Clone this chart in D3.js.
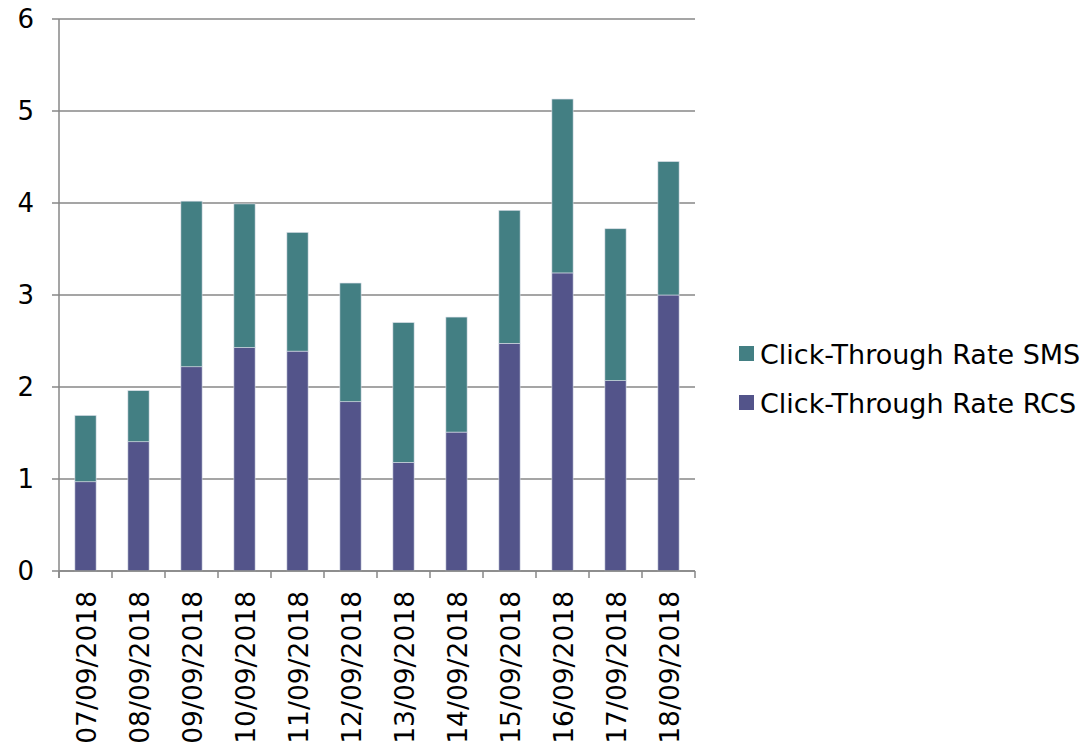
<!DOCTYPE html>
<html><head><meta charset="utf-8">
<script src="https://cdn.jsdelivr.net/npm/d3@7"></script>
<style>body{margin:0;background:#fff;} text{font-family:"DejaVu Sans",Verdana,sans-serif;fill:#000;}</style>
</head><body>
<svg id="c" width="1089" height="752"></svg>
<script>
const categories = ["07/09/2018","08/09/2018","09/09/2018","10/09/2018","11/09/2018","12/09/2018","13/09/2018","14/09/2018","15/09/2018","16/09/2018","17/09/2018","18/09/2018"];
const rcs = [0.97,1.405,2.22,2.43,2.39,1.84,1.18,1.51,2.475,3.24,2.07,3.0];
const sms = [0.72,0.555,1.80,1.56,1.29,1.29,1.52,1.25,1.445,1.89,1.65,1.45];
const yTicks = [0,1,2,3,4,5,6];
const seriesNames = ["Click-Through Rate RCS","Click-Through Rate SMS"];
const colors = {"Click-Through Rate RCS":"#53548a","Click-Through Rate SMS":"#437f83"};

(function(){
const svg = d3.select("#c");
const mL=59, mR=695, mT=19, mB=571;
const x = d3.scaleBand().domain(categories).range([mL,mR]).paddingInner(0.6).paddingOuter(0.3);
const xb = d3.scaleBand().domain(categories).range([mL,mR]);
const y = d3.scaleLinear().domain([0,6]).range([mB,mT]);

svg.append("g").selectAll("line").data(yTicks).join("line")
  .attr("x1",mL-7).attr("x2",mR).attr("y1",d=>y(d)).attr("y2",d=>y(d))
  .attr("stroke","#878787").attr("stroke-width",1.5);
svg.append("line").attr("x1",mL).attr("x2",mL).attr("y1",mT).attr("y2",mB+7)
  .attr("stroke","#878787").attr("stroke-width",1.5);
svg.append("g").selectAll("text").data(yTicks).join("text")
  .attr("x",34).attr("y",d=>y(d)).attr("dy","0.36em").attr("text-anchor","end")
  .style("font-size","26px").text(d=>d);

const rows = categories.map((c,i)=>({cat:c,"Click-Through Rate RCS":rcs[i],"Click-Through Rate SMS":sms[i]}));
const stack = d3.stack().keys(seriesNames)(rows);
svg.append("g").selectAll("g").data(stack).join("g").attr("fill",d=>colors[d.key])
  .selectAll("rect").data(d=>d).join("rect")
  .attr("x",d=>x(d.data.cat)).attr("width",x.bandwidth())
  .attr("y",d=>y(d[1])).attr("height",d=>y(d[0])-y(d[1]))
  .attr("stroke","#d8dde6").attr("stroke-width",0.6);

svg.append("line").attr("x1",mL).attr("x2",mR).attr("y1",mB).attr("y2",mB)
  .attr("stroke","#878787").attr("stroke-width",1.5);
const tickPos = categories.map(c=>xb(c)).concat([mR]);
svg.append("g").selectAll("line").data(tickPos).join("line")
  .attr("x1",d=>d).attr("x2",d=>d).attr("y1",mB).attr("y2",mB+7)
  .attr("stroke","#878787").attr("stroke-width",1.5);
svg.append("g").selectAll("text").data(categories).join("text")
  .attr("transform",d=>`translate(${xb(d)+xb.bandwidth()/2+1},591) rotate(-90)`)
  .attr("text-anchor","end").attr("dy","0.36em").style("font-size","26.5px").text(d=>d);

const legendItems = ["Click-Through Rate SMS","Click-Through Rate RCS"];
const lg = svg.append("g").selectAll("g").data(legendItems).join("g")
  .attr("transform",(d,i)=>`translate(739,${346+i*49})`);
lg.append("rect").attr("width",15).attr("height",15).attr("fill",d=>colors[d]);
lg.append("text").attr("x",21).attr("y",8).attr("dy","0.36em").style("font-size","27px").text(d=>d);
})();
</script>
</body></html>
